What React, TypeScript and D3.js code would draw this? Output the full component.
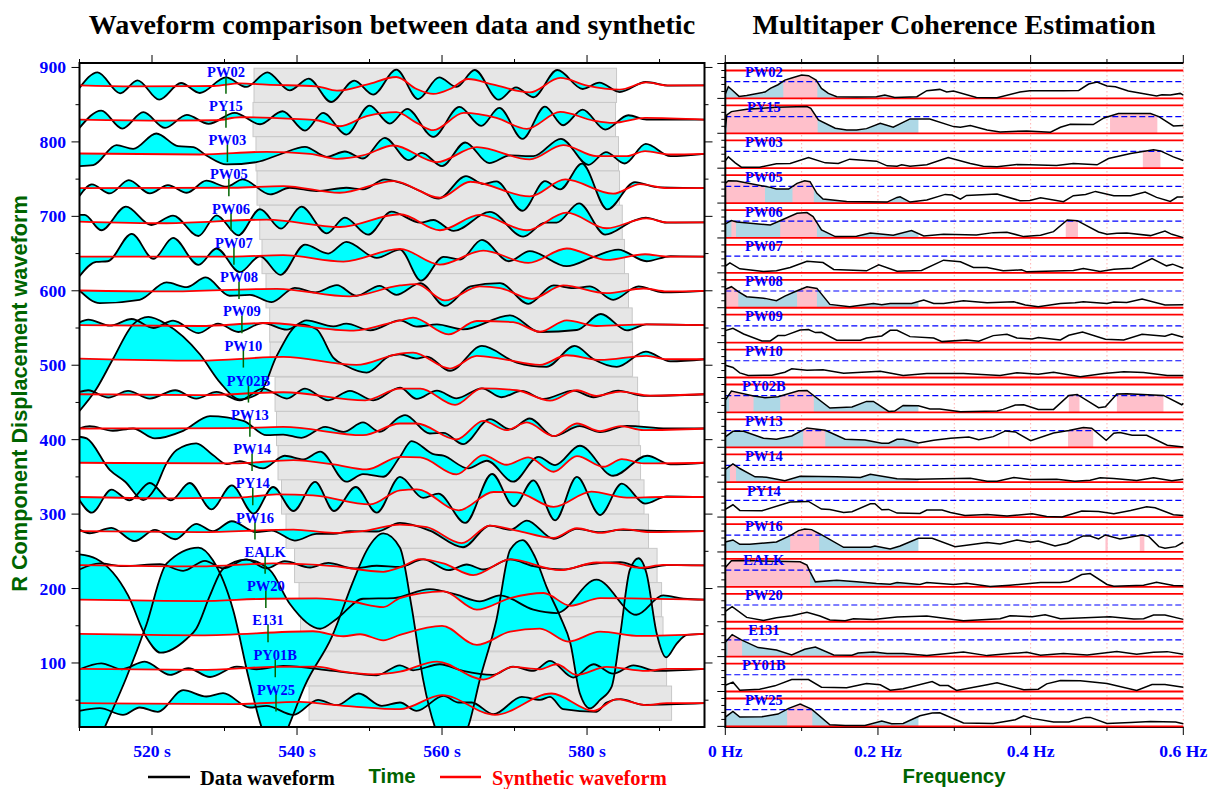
import React from "react";
import * as d3 from "d3";

const stations = ["PW02","PY15","PW03","PW05","PW06","PW07","PW08","PW09","PW10","PY02B","PW13","PW14","PY14","PW16","EALK","PW20","E131","PY01B","PW25"];
const baselines = [876,830,784,738,692,646,600,554,508,461,415,369,323,277,231,185,139,92,46];
const picks = [530.2,530.2,530.4,530.6,530.9,531.3,532,532.4,532.6,533.3,533.5,533.8,533.9,534.2,535.6,535.7,536,537,537.1];
const windowStart = [534.07,533.93,534.34,534.48,534.86,535.17,535.72,536.23,536.28,536.97,537.17,537.38,537.86,538.48,539.66,540.28,540.48,540.97,541.66];
const windowLength = 50;
const windowHalf = 23;

const timeTicks = [510,520,530,540,550,560,570,580,590];
const timeLabels = [520,540,560,580];
const ampMajor = [100,200,300,400,500,600,700,800,900];
const ampMinor = [50,150,250,350,450,550,650,750,850];
const freqTicks = [0,0.1,0.2,0.3,0.4,0.5,0.6];
const freqLabels = [0,0.2,0.4,0.6];
const cohThreshold = 0.6;
const blueLimit = 0.253;

// waveform: flat [time, amplitude, ...]
const dPW02 = [510,-3.6,512.5,17.5,515.6,-10.7,518,6.7,521,-19.3,524,3.1,526.6,-10.3,530.2,10.7,533,-2.2,535.9,17.5,539,-6.7,541.6,9,544.7,-22.4,547.9,6.3,550.5,-12.5,553.7,21,556.7,-18.4,559.6,10.7,562,-2.2,564.5,20.6,567.8,-19.3,570.2,-2.7,572.6,-16,575.9,20.6,579.4,-4.9,581.7,3.6,584.5,-9,588.1,4.5,591.4,-0.4,596.2,0];
const sPW02 = [510,0,517.4,-1.3,528.5,-0.9,532.1,2.7,535.8,0.9,542.7,-1.3,545.5,-7.2,549.6,0.9,553.7,11.2,556.5,-4.9,558.8,-11.6,561.1,-4.9,563.6,8.5,567.1,0.9,572.1,-9.4,576.3,9.9,580,-0.4,584.5,-5.8,588.2,4,591,0,596.2,0];
const dPY15 = [510,-11.2,513,12.1,515.9,-12.1,518.8,9.9,521.8,-11.2,524.8,6.3,527.8,-5.8,531.4,9,534.9,-6.3,538,11.2,541.1,-14.8,543.6,9,546.8,-20.2,550,18.8,552.8,-5.4,555.2,14.3,558.8,-23.3,562.4,17,565.4,-8.5,567.9,15.7,571.1,-26,574.2,17.5,576.7,-7.6,579.4,13.4,582.5,-13.4,585.7,5.8,588.2,0,591,0,596.2,0];
const sPY15 = [510,0,522,-1.3,528.9,-0.9,532.1,3.1,539.5,0.9,542.7,-0.9,545.9,-9,549.6,4.5,553.7,9.9,556.5,-4.5,558.8,-14.3,563,9,567.5,2.2,571.7,-12.5,576.3,10.3,580.9,-1.3,583.6,-4.5,588,2.2,596.2,0];
const dPW03 = [510,-16.6,511.9,-15.2,515.1,11.6,517.4,6.7,520.6,27.3,523.6,10.3,525.7,9,527.5,-2.2,530.3,-14.3,534.4,-11.2,537.6,-0.9,541.1,9.4,544.1,-4,546.6,3.1,549.1,-6.3,552.1,21.5,555.4,-8.5,557.2,1.3,560,-16.6,563.2,15.2,566.5,-12.5,569.4,-2.2,572.6,-3.1,576.4,20.2,580.2,-14.8,582.6,2.2,585.2,-13,588.1,13.4,591.5,-3.1,596.2,0];
const sPW03 = [510,0.4,526.6,-0.9,535.8,2.7,541.8,0,545.5,-6.7,549.1,-2.2,553.3,11.2,559.3,-11.2,564.8,9,572.1,-7.6,576.7,11.6,581.3,-3.1,585.5,-3.1,588,3.6,591.5,-0.9,596.2,0];
const dPW05 = [510,-10.7,511.7,4.9,514.2,-7.2,516.8,10.7,519.7,-7.2,522.2,4,524.8,-6.3,527.5,9.9,530.3,1.8,532.5,11.6,536.3,-8.5,539,0.4,542.7,-4,546.8,0.4,549.1,-1.8,552.1,11.6,554.2,7.2,557,-4,559.5,-14.3,563.3,16.1,565.7,5.4,567.5,9,571.1,-30.5,574.2,9.4,576.3,-1.8,579.3,32.7,582.8,-28.7,586.6,8.1,589.6,1.3,596.2,0];
const sPW05 = [510,0,531.2,0.4,538.1,2.7,545.9,-6.3,553.3,9.4,559.7,-13,563.9,8.5,572.1,-11.2,577,11.6,583.6,-7.6,587.3,5.4,591,0,596.2,0];
const dPW06 = [510,9.9,510.7,9.9,513,-10.7,516.4,21,519.9,-3.6,522.9,9,526.4,-18.4,528.9,9.4,531.9,-17.5,534.9,17.5,537.8,-8.5,540.6,21,544.1,-14.8,546.6,6.3,549.8,-16.6,553,14.3,557,-0.4,558.8,3.1,561.6,-11.6,566.6,13.9,571.2,-19.3,574.2,-0.4,575.8,-0.4,578.9,25.5,582.5,-16.6,586.4,1.8,588.1,6.3,591,-0.4,596.2,0];
const sPW06 = [510,0.9,522,-1.3,535.8,3.6,545.9,-6.3,554.2,10.8,559.7,-10.7,565.2,9.9,571.7,-10.7,577.2,13,582.7,-8,588.2,5.4,591,0,596.2,0];
const dPW07 = [510,-26.4,512.3,-7.2,513.9,-6.3,517.2,30.5,520.2,-3.1,522.9,25,526.4,-11.2,528.9,10.8,532.1,-21,534.9,0.4,537.7,-24.6,541.1,16.1,544.3,4,546.8,19.7,551,-1.8,554.2,9.4,557.1,-32.3,560.2,-0.4,562.5,-4,565.5,22.4,569.2,-6.3,572.1,7.2,577.2,-13,580.9,-0.4,584.3,9.4,588.2,-6.3,591.5,0.4,596.2,0];
const sPW07 = [510,0,531.2,0,538.1,1.8,546.4,-6.7,554.2,10.3,559.7,-10.8,565.7,8,571.9,-8.5,577.2,10.8,582.7,-4.5,588,3.1,591,0,596.2,0];
const dPW08 = [510,0.4,512.8,-16.6,518.3,-12.1,522,11.2,524.8,4.9,527.4,17.9,530.7,-6.7,533.5,-5.4,536.5,-15.2,539.7,4,542.5,-2.2,545.5,7.6,548.2,-6.7,551.4,6.7,553.7,-5.4,557,10.3,560.4,-20.2,563.9,5.8,568,10.3,571.9,-17.5,575.4,7.2,578.1,3.6,580.4,5.8,583.6,-12.1,587.1,5.8,590.5,-2.2,596.2,0];
const sPW08 = [510,0.4,522,-0.9,537.2,2.7,547.3,-7.6,554.2,7.2,556.5,9,560.4,-13,565.2,5.8,568,3.6,572.4,-10.8,576.7,7.2,582.7,-3.1,587.8,3.1,591,-0.9,596.2,0];
const dPW09 = [510,3.6,511.2,7.2,514.2,-0.9,517.2,8.1,520.2,-4,522.9,5.8,526.4,-10.8,529.1,1.8,531.9,-9.4,535.3,2.7,538.6,-6.3,541.3,6.3,545,-1.8,546.8,1.8,550.1,-7.2,554.2,6.3,556.5,-2.2,559.3,0.9,562.9,-5.8,569.4,13,573.5,-9.4,578.6,-6.7,581.9,14.8,585.5,-7.2,588.2,0.9,596.2,0];
const sPW09 = [510,0,526.6,-1.3,535.8,2.7,547.8,-7.6,554.2,6.3,556,9.9,560.9,-12.5,564.8,5.4,569.8,4,573.5,-9,577.2,6.3,581.3,-1.3,588.2,0.9,596.2,0];
const dPW10 = [510,-69.4,512.3,-40.3,514.6,0,517.4,47,519.5,56.9,522,47,526.6,6.7,529.4,-31.4,532.1,-53.8,534.9,-44.8,537.2,4.5,540.4,47,542.7,40.3,545,2.2,546.8,-9,549.6,-17.9,552.8,4.5,554.2,6.7,556.5,0.9,557.9,3.6,561.1,-15.7,565.5,17.9,570.3,-4.5,574.4,-10.3,578.3,17.9,580.9,0,584.1,-10.3,588.1,10.3,591.5,-2.7,596.2,0];
const sPW10 = [510,0.9,526.6,-1.8,538.1,3.1,548.2,-7.6,554.2,7.6,556,9,561.1,-12.5,564.8,4.5,568,0.9,573.5,-7.6,577.2,5.4,581.8,-0.9,588.2,4.5,591,0,596.2,0];
const dPY02B = [510,3.1,511.2,5.4,514,-4.5,516.7,4.5,519.7,-5.8,523.2,5.4,526.1,-5.8,528.9,3.1,532.1,-8.1,535.3,7.6,538.6,-5.8,541.1,7.6,544.3,-8.1,547.3,4.5,550.5,-8.1,554.2,9,556.5,-6.3,559.3,4.9,562,-5.4,565.5,8,568.2,-4,571,4.5,574,-6.3,578.1,4.9,580.9,-4,584.3,4.9,587.8,-2.2,596.2,0];
const sPY02B = [510,0,526.6,-1.3,538.1,2.7,549.4,-8.1,554.2,7.6,557,7.6,561.8,-14.3,565.5,8,570.3,5.4,574.9,-8.5,578.6,5.4,581.3,-2.2,584.6,3.6,588.7,-1.8,596.2,0];
const dPW13 = [510,0,511.4,3.1,514.6,-3.1,517.4,0,520.4,-13.4,524.3,-3.1,528,16.6,532.6,10.3,535.8,-9,538.1,-8.1,540.6,-12.5,543.9,2.2,546.4,-4.5,549.1,8.1,551.4,-4.5,554.2,15.7,554.9,17.9,558.3,-6.7,560.2,-5.8,562.9,-21,566.6,12.5,569.4,-1.3,572.1,13.4,575.4,-10.3,579,3.1,581.8,-4.9,585.5,3.6,591,0,596.2,0];
const sPW13 = [510,0,531.2,0.4,538.1,2.2,549.1,-9,554.2,6.7,556.5,6.7,562,-14.8,565.7,10.3,568.9,-2.2,571.7,8.1,575.4,-10.3,578.6,6.7,581.8,-3.6,584.6,3.1,587.8,-2.2,596.2,0];
const dPW14 = [510,34.9,511,32.7,514.2,-9.9,516.3,-25.5,518.8,-50.2,520.4,-34.9,522,-0.9,523.4,17,526.1,26,528.4,10.3,530.3,-1.8,532.1,2.2,535.3,-7.6,538.3,9.4,540.9,4.5,543.2,14.8,546.8,-25.5,549.1,-15.2,551.9,-18.8,554.2,8,555.8,29.1,558.8,11.6,560.2,9.4,563.6,-7.6,566.2,2.7,569.8,-25.5,573.3,8,575.6,-3.1,579,22.8,583.6,-17.5,588.3,9.4,591.5,-2.2,596.2,0];
const sPW14 = [510,0,531.2,-0.9,539.5,3.6,545,-2.2,549.6,-9,554.2,8,557,7.2,562,-15.7,565.7,10.3,568.9,-2.7,571.9,7.2,575.4,-12.1,578.6,9,582.3,-5.4,584.8,4.9,587.8,-0.9,596.2,0];
const dPY14 = [510,-4.5,511.7,-21,514.4,9.9,516.9,-4.5,519.7,18.8,522.6,-4.5,525.2,18.8,528.2,-16.6,531,15.7,534,-22.4,536.7,13.4,539.5,-18.8,542.5,20.2,545.1,-18.8,548.1,13.4,551,-21,554.2,26.9,557.4,-1.3,559.5,4.5,563.2,-34.9,566.9,30.9,569.9,-12.5,572.6,22.4,575.6,-31.4,578.6,26.9,581.8,-24.2,584.8,17.9,588,-9,591,0.9,596.2,0];
const sPY14 = [510,0,522,-1.8,532.1,-0.9,537.2,3.6,542.2,2.2,550.1,-9.9,554.2,9,556.5,10.3,562.3,-17.9,567.1,6.7,570.3,6.3,575.4,-13.4,580.6,7.2,585.5,-0.9,590.5,0,596.2,0];
const dPW16 = [510,2.2,511.4,-2.7,514.4,4.5,517.6,-13.4,520.4,1.8,523.2,-10.8,526.1,9.9,528.4,0,531,13.4,534.4,-1.3,536.5,0.9,539.7,-12.5,542.7,-3.6,545,-3.6,547.3,0,551,-0.4,554.2,11.2,558.3,0.9,562.9,-21.5,566.6,7.6,569.4,1.8,571.7,14.3,575.4,-10.3,578.6,3.1,581.8,-1.3,584.6,1.8,588.2,0.9,596.2,0];
const sPW16 = [510,0,526.6,-1.3,539.5,2.2,545,-2.2,549.6,0.9,554.2,9,557.9,5.4,562.7,-16.1,566.6,7.6,570.3,0.9,575.4,-9,578.6,4,581.8,-2.2,585,2.7,588.7,-1.3,596.2,0];
const dEALK = [510,-5.4,512.8,2.7,516,-0.9,521.1,1.8,524.3,-7.2,527.3,6.3,529.8,-4,533,8.1,535.8,-4,538.3,5.8,541.8,-2.7,544.3,3.6,547.8,-4,551,-0.4,554.2,-1.8,557.4,8.1,560.9,-6.3,563.4,1.3,565.7,-5.4,569.4,8.1,572.6,-0.9,576.7,-5.4,580,1.3,584.6,4.5,587.8,-4,591,0.4,596.2,0];
const sEALK = [510,0.4,526.6,-1.3,536.7,2.7,545,-0.9,551.9,-8.5,554.2,-2.7,557,8.5,560.2,2.7,564.3,-13,569.4,8.1,576.3,-6.3,581.3,4,584.1,2.7,587.3,-3.1,590.5,0.9,596.2,0];
const dPW20 = [510,60.9,512.3,55.1,516.7,5.8,519.2,-50.2,521.2,-71.2,524.8,-52.4,526.1,-39,528,5.8,529.8,41.7,533,53.8,536.3,39.4,539,-5.4,543.2,-39,545.5,-25.5,549.1,1.3,553.3,2.2,558.3,14.3,562,6.7,565.2,-2.2,568,5.8,572.6,-13.4,575.8,-17.9,581.3,26.9,586.8,-20.2,590.5,5.8,593.3,1.3,596.2,0];
const sPW20 = [510,0,526.6,-1.8,535.8,1.3,542.7,1.8,547.8,-3.1,551.9,-9.9,554.2,2.2,560.2,11.2,564.8,-13.4,569.4,2.2,574,9,577.7,-8.1,581.8,2.2,596.2,0];
const dE131 = [510,-201,513.5,-125,516.5,-57.8,519.2,11.6,522,94.5,526.4,116,528.4,99,531.2,31.8,533.3,-57.8,535.1,-125,537,-165,538.8,-125,541.1,-69,544.8,-4,547.8,72,549.6,112,551.9,135,554.2,115.8,555.8,36.7,557.4,-61.8,559,-124.5,561.1,-156,563.6,-124.5,565.2,-61.8,567.5,18.8,569.4,113,571.1,126,572.8,104,574.4,63.6,576.3,23.3,577.7,-12.5,579,-79.7,580.4,-100,581.8,-88.7,583.4,-70.8,584.6,0.9,585.9,86,587.1,101.7,588.2,81.5,589.6,0.9,590.9,-31.4,592.4,-12.5,593.8,-1.3,596.2,0];
const sE131 = [510,0,526.6,-1.8,542.2,3.6,546.4,-3.1,548.7,-0.4,551.9,-8.5,554.2,-1.3,560,10.8,564.8,-14.8,569.4,3.1,573.5,7.2,577.4,-10.3,581.8,3.1,587.3,-2.7,596.2,0];
const dPY01B = [510,-0.4,513,7.6,515.8,-0.4,519,9.9,522.5,-8.1,525,0.9,528,-10.8,531.7,3.1,534.4,-0.4,538.1,4,545,-2.7,551,-8.5,554.2,4.9,556,-1.8,559.7,6.3,562.9,-2.7,567,-8.1,569.8,3.1,572.6,-2.7,574.9,10.8,578.1,-11.6,580.9,6.3,583.6,-6.3,586.4,4.9,589.6,-2.7,596.2,0];
const sPY01B = [510,0,526.6,-1.3,536.7,2.7,542.7,3.1,546.4,-3.6,550.5,-7.2,554.2,-3.6,559.3,9.9,565.7,-14.3,569.8,2.7,573.5,-0.4,575.8,6.3,578.6,-8.1,582.7,2.7,588.2,-2.7,591,0,596.2,0];
const dPW25 = [510,-10.3,512.8,-6.7,516,-15.7,518.3,-5.8,520.8,-11.6,524.3,17.5,527.5,9,529.8,13.4,533.5,-5.8,535.8,-3.6,539.5,-15.7,542.9,4.5,545.5,-2.7,548.5,13,551.7,-3.6,554.2,0.9,556.5,-10.3,560.2,9.9,562.3,0.9,564.1,0.9,567.1,-14.8,571,8.5,573.5,4.5,574.9,8.5,576.7,-8.1,581.3,-11.6,582.7,0.9,584.6,5.4,587.8,-2.2,596.2,0];
const sPW25 = [510,0,531.2,-1.3,540.4,1.8,545,-2.2,554.2,-8.1,560,10.8,567.3,-15.7,575.1,13,580.9,-10.3,584.1,5.4,588.2,-2.7,591,0,596.2,0];

// coherence: flat [frequency, coherence, ...]
const cPW02 = [0,.155,.004,.418,.010,.275,.018,.072,.028,.108,.052,.227,.059,.359,.069,.490,.078,.657,.087,.729,.100,.837,.109,.813,.119,.657,.126,.359,.135,.179,.146,.060,.172,.048,.198,.060,.209,.120,.222,.036,.251,.060,.264,.275,.281,.323,.290,.227,.299,.263,.329,.036,.356,.024,.386,.227,.399,.275,.443,.275,.463,.287,.476,.514,.487,.586,.500,.442,.511,.418,.528,.263,.565,.084,.572,.131,.583,.120,.596,.179,.600,.120];
const cPY15 = [0,.179,.002,.657,.008,.777,.028,.860,.067,.932,.107,.956,.112,.896,.122,.478,.144,.179,.159,.120,.172,.120,.185,.167,.203,.359,.220,.215,.242,.514,.268,.514,.299,.239,.308,.215,.321,.275,.343,.120,.360,.048,.395,.084,.426,.036,.439,.215,.452,.323,.482,.311,.496,.550,.515,.705,.557,.705,.568,.598,.587,.263,.600,.275];
const cPW03 = [0,.263,.004,.406,.013,.191,.021,.036,.045,.036,.067,.155,.085,.167,.109,.382,.131,.191,.148,.167,.163,.323,.198,.251,.212,.084,.225,.072,.231,.120,.242,.072,.264,.120,.292,.382,.321,.167,.338,.072,.356,.048,.382,.131,.399,.120,.434,.096,.456,.167,.487,.120,.502,.347,.531,.526,.561,.657,.570,.621,.587,.406,.600,.275];
const cPW05 = [0,.705,.004,.801,.015,.789,.059,.562,.067,.502,.083,.502,.094,.705,.104,.801,.111,.765,.120,.347,.128,.143,.159,.060,.212,.036,.225,.203,.229,.227,.242,.036,.264,.108,.288,.311,.297,.287,.308,.143,.316,.275,.356,.323,.386,.084,.399,.096,.413,.191,.443,.048,.456,.263,.472,.311,.485,.418,.509,.263,.531,.263,.550,.394,.565,.203,.583,.060,.592,.215,.600,.215];
const cPW06 = [0,.502,.008,.621,.015,.574,.059,.466,.074,.645,.094,.884,.107,.908,.115,.765,.126,.287,.144,.048,.172,.060,.190,.179,.220,.096,.244,.263,.260,.072,.286,.131,.329,.108,.351,.191,.369,.203,.391,.048,.413,.096,.430,.227,.448,.645,.461,.621,.489,.215,.500,.131,.513,.167,.526,.179,.557,.084,.576,.251,.585,.131,.600,.012];
const cPW07 = [0,.239,.006,.359,.019,.143,.050,.048,.067,.072,.085,.191,.107,.418,.128,.370,.142,.120,.185,.072,.201,.287,.225,.060,.257,.084,.286,.454,.308,.394,.325,.191,.343,.191,.364,.072,.388,.108,.395,.036,.456,.084,.469,.155,.491,.048,.509,.131,.533,.167,.559,.514,.578,.251,.586,.311,.600,.167];
const cPW08 = [0,.657,.008,.753,.017,.574,.028,.394,.052,.335,.067,.251,.078,.418,.091,.574,.107,.753,.120,.693,.137,.120,.163,.036,.194,.155,.205,.108,.216,.155,.244,.155,.260,.275,.273,.155,.286,.155,.312,.251,.343,.179,.378,.215,.393,.096,.410,.036,.439,.155,.458,.179,.469,.215,.500,.155,.509,.203,.526,.191,.546,.311,.576,.096,.600,.108];
const cPW09 = [0,.430,.010,.514,.024,.311,.048,.060,.059,.060,.069,.251,.078,.251,.098,.454,.109,.466,.118,.359,.126,.370,.146,.084,.177,.084,.185,.167,.205,.239,.216,.442,.225,.442,.242,.215,.273,.167,.284,.036,.316,.096,.332,.048,.351,.251,.369,.299,.382,.167,.402,.131,.410,.179,.439,.096,.450,.263,.468,.382,.498,.120,.522,.096,.546,.299,.576,.227,.585,.311,.600,.191];
const cPW10 = [0,.442,.010,.359,.019,.167,.030,.072,.061,.084,.078,.191,.087,.311,.107,.263,.128,.275,.155,.155,.203,.227,.233,.072,.264,.143,.312,.143,.360,.072,.382,.167,.410,.120,.430,.191,.465,.024,.496,.143,.522,.203,.548,.179,.579,.072,.600,.072];
const cPY02B = [0,.442,.008,.765,.037,.586,.052,.526,.069,.562,.096,.777,.107,.789,.137,.155,.166,.191,.185,.394,.194,.394,.214,.036,.222,.048,.233,.251,.253,.239,.268,.120,.281,.120,.308,.024,.356,.048,.364,.108,.380,.263,.391,.275,.410,.108,.430,.108,.450,.609,.461,.645,.489,.167,.498,.203,.513,.657,.526,.669,.574,.609,.598,.275,.600,.323];
const cPW13 = [0,.370,.010,.574,.024,.574,.050,.323,.067,.287,.087,.406,.107,.693,.131,.609,.157,.287,.183,.263,.205,.143,.214,.143,.225,.287,.233,.287,.253,.155,.273,.251,.295,.323,.319,.370,.332,.275,.351,.382,.367,.586,.380,.550,.400,.239,.430,.514,.450,.598,.469,.705,.480,.681,.499,.251,.509,.502,.517,.526,.533,.430,.552,.430,.579,.072,.600,.012];
const cPW14 = [0,.454,.010,.657,.019,.490,.039,.191,.054,.179,.078,.048,.098,.215,.146,.191,.177,.167,.190,.287,.225,.120,.251,.108,.321,.143,.343,.036,.356,.036,.378,.167,.399,.096,.434,.108,.458,.036,.478,.072,.491,.155,.509,.131,.539,.060,.561,.155,.585,.048,.600,.108];
const cPY14 = [0,.275,.010,.442,.019,.239,.048,.227,.085,.538,.109,.562,.126,.287,.137,.275,.155,.167,.166,.191,.190,.478,.196,.478,.205,.263,.214,.275,.225,.143,.255,.131,.264,.251,.284,.251,.295,.167,.314,.060,.343,.096,.369,.036,.402,.120,.421,.024,.441,0,.467,.215,.489,.203,.509,.120,.531,.239,.552,.370,.563,.335,.587,.084,.600,.060];
const cPW16 = [0,.359,.010,.430,.019,.275,.032,.275,.067,.359,.085,.586,.096,.765,.104,.825,.113,.801,.124,.645,.155,.167,.190,.167,.196,.215,.216,.108,.229,.215,.253,.490,.271,.490,.301,.191,.316,.239,.343,.335,.360,.287,.382,.430,.399,.347,.410,.394,.432,.215,.448,.311,.469,.574,.478,.574,.489,.466,.498,.609,.517,.466,.546,.609,.555,.550,.568,.191,.576,.131,.590,.191,.600,.347];
const cEALK = [0,.693,.008,.932,.024,.944,.098,.896,.107,.777,.111,.538,.118,.179,.146,.239,.172,.179,.198,.120,.216,.096,.225,.155,.255,.084,.264,.155,.299,.084,.316,.131,.347,.012,.373,.060,.413,.155,.439,.155,.450,.203,.467,.442,.478,.478,.500,.084,.509,.024,.548,.060,.565,.167,.587,.048,.600,.036];
const cPW20 = [0,.370,.009,.538,.028,.155,.050,.048,.067,.143,.087,.215,.107,.335,.124,.203,.137,.060,.157,.036,.168,.108,.194,.084,.225,.167,.264,.203,.312,.036,.360,.108,.373,.215,.402,.179,.419,.251,.439,.108,.504,.179,.535,.096,.548,.108,.561,.239,.576,.239,.600,.084];
const cE131 = [0,.514,.009,.789,.021,.598,.043,.323,.067,.239,.087,.060,.104,.263,.118,.347,.142,.060,.166,.048,.174,.131,.194,.167,.212,.108,.233,.108,.264,.036,.312,.167,.343,.036,.373,.108,.395,.155,.413,.048,.443,.108,.474,.060,.513,.179,.539,.084,.561,.155,.579,.179,.600,.084];
const cPY01B = [0,.227,.010,.335,.019,.048,.045,.084,.065,.203,.087,.430,.109,.430,.126,.155,.159,.131,.185,.287,.203,.239,.216,.048,.233,.096,.271,.359,.281,.215,.292,.215,.303,.036,.343,.239,.356,.311,.391,.060,.410,.084,.421,.275,.439,.394,.465,.382,.500,.287,.539,.036,.559,.251,.576,.251,.600,.155];
const cPW25 = [0,.335,.010,.538,.019,.335,.048,.347,.069,.442,.083,.645,.098,.801,.113,.621,.137,.060,.157,.036,.183,.036,.205,.191,.218,.096,.233,.108,.255,.382,.271,.478,.281,.490,.312,.120,.351,.108,.380,.239,.391,.382,.402,.287,.430,.155,.450,.155,.472,.323,.478,.323,.500,.108,.531,.143,.557,.179,.590,.155,.600,.096];

const dataSeries = [dPW02,dPY15,dPW03,dPW05,dPW06,dPW07,dPW08,dPW09,dPW10,dPY02B,dPW13,dPW14,dPY14,dPW16,dEALK,dPW20,dE131,dPY01B,dPW25];
const synthSeries = [sPW02,sPY15,sPW03,sPW05,sPW06,sPW07,sPW08,sPW09,sPW10,sPY02B,sPW13,sPW14,sPY14,sPW16,sEALK,sPW20,sE131,sPY01B,sPW25];
const cohSeries = [cPW02,cPY15,cPW03,cPW05,cPW06,cPW07,cPW08,cPW09,cPW10,cPY02B,cPW13,cPW14,cPY14,cPW16,cEALK,cPW20,cE131,cPY01B,cPW25];

const hasBlue = [true,true,false,true,true,false,true,false,false,true,true,true,false,true,true,false,true,false,true];
const pinkBands: number[][][] = [
  [[.076,.1206]],
  [[.002,.121],[.504,.566]],
  [[.547,.57]],
  [[0,.052],[.088,.116]],
  [[.008,.014],[.072,.12],[.446,.462]],
  [],
  [[0,.017],[.094,.12]],
  [],
  [],
  [[.005,.037],[.072,.116],[.45,.464],[.513,.574]],
  [[.102,.131],[.371,.372],[.449,.482]],
  [[.006,.014]],
  [],
  [[.085,.123],[.498,.501],[.543,.549]],
  [[0,.111]],
  [],
  [[.003,.022]],
  [],
  [[.081,.114]],
];

const pairs = (a: number[]) => d3.range(0, a.length, 2).map((i) => [a[i], a[i + 1]] as [number, number]);

const xL = d3.scaleLinear().domain([510, 596.2]).range([79.5, 704.5]);
const yL = d3.scaleLinear().domain([14, 906]).range([727, 63]);
const xR = d3.scaleLinear().domain([0, 0.6]).range([725.3, 1183.3]);
const rowY = d3.scaleLinear().domain([0, 18]).range([98.4, 726.4]);
const cohH = d3.scaleLinear().domain([0, 1]).range([0, -27.9]);

const BLUE = "#0000ff";
const GREEN = "#006400";
const SERIF = "'Liberation Serif', serif";
const SANS = "'Liberation Sans', sans-serif";

function cohAt(pts: [number, number][], f: number) {
  const i = d3.bisector((d: [number, number]) => d[0]).left(pts, f);
  if (i <= 0) return pts[0][1];
  if (i >= pts.length) return pts[pts.length - 1][1];
  const [f0, c0] = pts[i - 1];
  const [f1, c1] = pts[i];
  return c0 + ((c1 - c0) * (f - f0)) / (f1 - f0 || 1);
}

function bandPoints(pts: [number, number][], a: number, b: number) {
  const inner = pts.filter((p) => p[0] > a && p[0] < b);
  return [[a, cohAt(pts, a)] as [number, number], ...inner, [b, cohAt(pts, b)] as [number, number]];
}

export default function App() {
  const wiggle = (base: number) =>
    d3.line<[number, number]>()
      .x((d) => xL(d[0]))
      .y((d) => yL(base + d[1]))
      .curve(d3.curveMonotoneX);

  const top = yL.range()[1];
  const bottom = yL.range()[0];
  const L0 = xL.range()[0];
  const L1 = xL.range()[1];
  const R0 = xR.range()[0];
  const R1 = xR.range()[1];
  const rowMarks = d3.range(-1, 18.01, 0.2);

  return (
    <svg width={1208} height={789} style={{ position: "absolute", left: 0, top: 0, background: "#fff" }}>
      <defs>
        <clipPath id="leftClip"><rect x={L0} y={top} width={L1 - L0} height={bottom - top} /></clipPath>
      </defs>

      <text x={392} y={34} textAnchor="middle" fontFamily={SERIF} fontWeight="bold" fontSize={28.1}>Waveform comparison between data and synthetic</text>
      <text x={954} y={34} textAnchor="middle" fontFamily={SERIF} fontWeight="bold" fontSize={28.1}>Multitaper Coherence Estimation</text>

      {/* left panel */}
      <g clipPath="url(#leftClip)">
        {stations.map((s, i) => (
          <rect key={s} x={xL(windowStart[i])} y={yL(baselines[i] + windowHalf)} width={xL(windowStart[i] + windowLength) - xL(windowStart[i])} height={yL(baselines[i] - windowHalf) - yL(baselines[i] + windowHalf)} fill="#e6e6e6" stroke="#c8c8c8" strokeWidth={1} />
        ))}
        {stations.map((s, i) => {
          const line = wiggle(baselines[i]);
          const a = line(pairs(dataSeries[i])) as string;
          const b = (line(pairs(synthSeries[i]).reverse()) as string).replace(/^M/, "L");
          return <path key={s} d={a + b + "Z"} fill="#00ffff" stroke="none" />;
        })}
        {stations.map((s, i) => (
          <path key={s} d={wiggle(baselines[i])(pairs(dataSeries[i])) as string} fill="none" stroke="#000" strokeWidth={1.8} />
        ))}
        {stations.map((s, i) => (
          <path key={s} d={wiggle(baselines[i])(pairs(synthSeries[i])) as string} fill="none" stroke="#ff0000" strokeWidth={1.8} />
        ))}
      </g>
      {stations.map((s, i) => (
        <g key={s}>
          <line x1={xL(picks[i])} x2={xL(picks[i])} y1={yL(baselines[i]) - 9.3} y2={yL(baselines[i]) + 8.3} stroke={GREEN} strokeWidth={1.5} />
          <text x={xL(picks[i])} y={yL(baselines[i]) - 8.6} textAnchor="middle" fontFamily={SERIF} fontWeight="bold" fontSize={14.5} fill={BLUE}>{s}</text>
        </g>
      ))}
      <rect x={L0} y={top} width={L1 - L0} height={bottom - top} fill="none" stroke="#000" strokeWidth={2} />
      {timeTicks.map((t) => {
        const len = timeLabels.includes(t) ? 8 : 4;
        return (
          <g key={t} stroke="#000" strokeWidth={1}>
            <line x1={xL(t)} x2={xL(t)} y1={top} y2={top - len} />
            <line x1={xL(t)} x2={xL(t)} y1={bottom} y2={bottom + len} />
          </g>
        );
      })}
      {timeLabels.map((t) => (
        <text key={t} x={xL(t)} y={757} textAnchor="middle" fontFamily={SERIF} fontWeight="bold" fontSize={17.6} fill={BLUE}>{t} s</text>
      ))}
      {ampMajor.map((v) => (
        <g key={v}>
          <line x1={L0 - 8} x2={L0} y1={yL(v)} y2={yL(v)} stroke="#000" />
          <line x1={L1} x2={L1 + 8} y1={yL(v)} y2={yL(v)} stroke="#000" />
          <text x={66} y={yL(v) + 6} textAnchor="end" fontFamily={SERIF} fontWeight="bold" fontSize={17.6} fill={BLUE}>{v}</text>
        </g>
      ))}
      {ampMinor.map((v) => (
        <g key={v} stroke="#000">
          <line x1={L0 - 4} x2={L0} y1={yL(v)} y2={yL(v)} />
          <line x1={L1} x2={L1 + 4} y1={yL(v)} y2={yL(v)} />
        </g>
      ))}
      <text transform="translate(27,393.5) rotate(-90)" textAnchor="middle" fontFamily={SANS} fontWeight="bold" fontSize={21.7} fill={GREEN}>R Component Displacement waveform</text>
      <text x={392} y={783} textAnchor="middle" fontFamily={SANS} fontWeight="bold" fontSize={20.4} fill={GREEN}>Time</text>

      {/* legend */}
      <line x1={148} x2={190} y1={777} y2={777} stroke="#000" strokeWidth={2.5} />
      <text x={200} y={785} fontFamily={SERIF} fontWeight="bold" fontSize={20.5} fill="#000">Data waveform</text>
      <line x1={440} x2={481} y1={777} y2={777} stroke="#ff0000" strokeWidth={2.5} />
      <text x={492} y={785} fontFamily={SERIF} fontWeight="bold" fontSize={20.5} fill="#ff0000">Synthetic waveform</text>

      {/* right panel */}
      {d3.range(0.1, 0.601, 0.1).map((f) => (
        <line key={f} x1={xR(f)} x2={xR(f)} y1={top} y2={bottom} stroke="#ffb0b0" strokeWidth={1} strokeDasharray="1.5 2.5" />
      ))}
      {stations.map((s, i) => {
        const pts = pairs(cohSeries[i]);
        const base = rowY(i);
        const area = d3.area<[number, number]>().x((d) => xR(d[0])).y0(base).y1((d) => base + cohH(d[1]));
        return (
          <g key={s}>
            {hasBlue[i] && <path d={area(bandPoints(pts, 0, blueLimit)) as string} fill="#add8e6" />}
            {pinkBands[i].map((b, j) => (
              <path key={j} d={area(bandPoints(pts, b[0], b[1])) as string} fill="#ffc0cb" />
            ))}
          </g>
        );
      })}
      <line x1={R0} x2={R1} y1={top} y2={top} stroke="#000" strokeWidth={2} />
      <line x1={R0} x2={R1} y1={bottom} y2={bottom} stroke="#000" strokeWidth={2} />
      {stations.map((s, i) => {
        const pts = pairs(cohSeries[i]);
        const base = rowY(i);
        const curve = d3.line<[number, number]>().x((d) => xR(d[0])).y((d) => base + cohH(d[1]));
        return (
          <g key={s}>
            <line x1={R0} x2={R1} y1={base} y2={base} stroke="#ff0000" strokeWidth={1.8} />
            <line x1={R0} x2={R1} y1={base + cohH(1)} y2={base + cohH(1)} stroke="#ff0000" strokeWidth={1.8} />
            <line x1={R0} x2={R1} y1={base + cohH(cohThreshold)} y2={base + cohH(cohThreshold)} stroke={BLUE} strokeWidth={1.2} strokeDasharray="6 3" />
            <path d={curve(pts) as string} fill="none" stroke="#000" strokeWidth={1.5} />
            <text x={xR(0.0505)} y={base - 21.4} textAnchor="middle" fontFamily={SERIF} fontWeight="bold" fontSize={14.5} fill={BLUE}>{s}</text>
          </g>
        );
      })}
      <line x1={R0} x2={R0} y1={top - 1} y2={bottom + 1} stroke="#000" strokeWidth={2} />
      {rowMarks.map((m) => {
        const major = Math.abs(m - Math.round(m)) < 0.01;
        return <line key={m} x1={R0 - (major ? 8 : 4)} x2={R0} y1={rowY(m)} y2={rowY(m)} stroke="#000" />;
      })}
      {freqTicks.map((f, i) => {
        const len = i % 2 === 0 ? 8 : 4;
        return (
          <g key={f} stroke="#000">
            <line x1={xR(f)} x2={xR(f)} y1={top} y2={top - len} />
            <line x1={xR(f)} x2={xR(f)} y1={bottom} y2={bottom + len} />
          </g>
        );
      })}
      {freqLabels.map((f) => (
        <text key={f} x={xR(f)} y={757} textAnchor="middle" fontFamily={SERIF} fontWeight="bold" fontSize={17.6} fill={BLUE}>{f} Hz</text>
      ))}
      <text x={954} y={783} textAnchor="middle" fontFamily={SANS} fontWeight="bold" fontSize={20.4} fill={GREEN}>Frequency</text>
    </svg>
  );
}
